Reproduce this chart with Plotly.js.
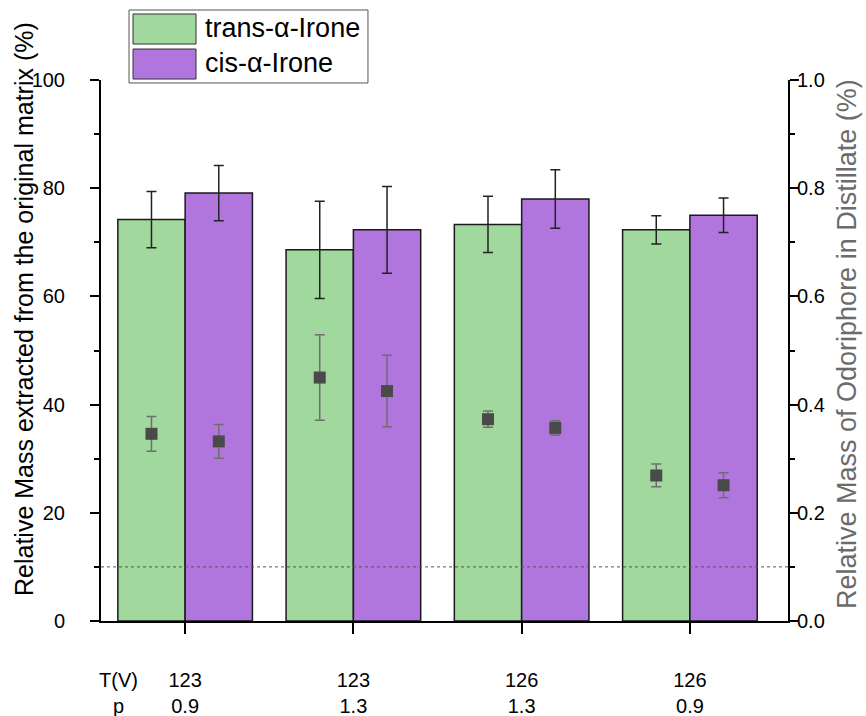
<!DOCTYPE html>
<html>
<head>
<meta charset="utf-8">
<script src="https://cdn.plot.ly/plotly-3.0.1.min.js"></script>
<style>
  html, body { margin: 0; padding: 0; background: #fff; }
  #chart { width: 866px; height: 716px; }
</style>
</head>
<body>
<div id="chart"></div>
<script>
// Distillation conditions for each run
const temperatures = ['123', '123', '126', '126'];
const pressures = ['0.9', '1.3', '1.3', '0.9'];

// Series names
const seriesNames = ['trans-\u03b1-Irone', 'cis-\u03b1-Irone'];

// Axis titles
const leftTitle = 'Relative Mass extracted from the original matrix (%)';
const rightTitle = 'Relative Mass of Odoriphore in Distillate (%)';

// Relative mass extracted from the original matrix (%), with errors
const transExtracted = [74.2, 68.6, 73.3, 72.3];
const transExtractedErr = [5.2, 9.0, 5.2, 2.6];
const cisExtracted = [79.1, 72.3, 78.0, 75.0];
const cisExtractedErr = [5.1, 8.0, 5.4, 3.2];

// Relative mass of odoriphore in distillate (%), with errors
const transDistillate = [0.346, 0.450, 0.373, 0.269];
const transDistillateErr = [0.032, 0.079, 0.015, 0.021];
const cisDistillate = [0.332, 0.425, 0.357, 0.251];
const cisDistillateErr = [0.031, 0.066, 0.013, 0.023];

// Reference level marked by the dashed line (left-axis units)
const referenceLevel = 10;

const categories = temperatures.map((t, i) => t + '<br>' + pressures[i]);

const GREEN = '#a0d89e';
const PURPLE = '#b076de';
const FONT = 'Liberation Sans, Arial, sans-serif';

const barTrace = (name, y, err, color) => ({
  type: 'bar', name, x: categories, y,
  marker: { color, line: { color: '#1a1a1a', width: 1.5 } },
  error_y: { type: 'data', array: err, visible: true, color: '#222', thickness: 1.5, width: 5 },
  xaxis: 'x', yaxis: 'y', showlegend: false
});

const pointTrace = (name, y, err) => ({
  type: 'scatter', mode: 'markers', name: name + ' (distillate)', x: categories, y,
  marker: { symbol: 'square', size: 12, color: '#4a4a4a' },
  error_y: { type: 'data', array: err, visible: true, color: '#6e6e6e', thickness: 1.5, width: 5 },
  xaxis: 'x', yaxis: 'y2', showlegend: false
});

const data = [
  barTrace(seriesNames[0], transExtracted, transExtractedErr, GREEN),
  barTrace(seriesNames[1], cisExtracted, cisExtractedErr, PURPLE),
  pointTrace(seriesNames[0], transDistillate, transDistillateErr),
  pointTrace(seriesNames[1], cisDistillate, cisDistillateErr)
];

const xRange = [-0.5, 3.583];
const boundaryTicks = [-0.5, 0.5, 1.5, 2.5, 3.5];

// Hand-built legend: frame, colour patches and labels in paper coordinates
const legendShapes = [
  { type: 'rect', xref: 'paper', yref: 'paper', x0: 0.0408, x1: 0.3886, y0: 0.9945, y1: 1.1294,
    line: { color: '#555', width: 1 }, fillcolor: '#fff' },
  { type: 'rect', xref: 'paper', yref: 'paper', x0: 0.0466, x1: 0.1383, y0: 1.0665, y1: 1.122,
    line: { color: '#333', width: 1 }, fillcolor: GREEN },
  { type: 'rect', xref: 'paper', yref: 'paper', x0: 0.0466, x1: 0.1383, y0: 1.0018, y1: 1.0573,
    line: { color: '#333', width: 1 }, fillcolor: PURPLE }
];
const legendLabels = [
  { xref: 'paper', yref: 'paper', x: 0.1485, y: 1.0961, xanchor: 'left', yanchor: 'middle',
    text: seriesNames[0], showarrow: false, font: { family: FONT, size: 27, color: '#000' } },
  { xref: 'paper', yref: 'paper', x: 0.1485, y: 1.0314, xanchor: 'left', yanchor: 'middle',
    text: seriesNames[1], showarrow: false, font: { family: FONT, size: 27, color: '#000' } }
];

// Axis titles drawn as rotated annotations
const axisTitles = [
  { xref: 'paper', yref: 'paper', x: -0.1121, y: 0.5767, xanchor: 'center', yanchor: 'middle',
    textangle: -90, text: leftTitle, showarrow: false,
    font: { family: FONT, size: 25, color: '#000' } },
  { xref: 'paper', yref: 'paper', x: 1.0859, y: 0.512, xanchor: 'center', yanchor: 'middle',
    textangle: -90, text: rightTitle, showarrow: false,
    font: { family: FONT, size: 27, color: '#6b6b6b' } }
];

const layout = {
  width: 866, height: 716,
  margin: { l: 101, r: 78, t: 80, b: 95, pad: 0 },
  paper_bgcolor: '#fff', plot_bgcolor: '#fff',
  font: { family: FONT, size: 20, color: '#000' },
  barmode: 'group', bargap: 0.2, bargroupgap: 0,
  scattermode: 'group', scattergap: 0.2,
  showlegend: false,
  xaxis: {
    type: 'category', range: xRange, showgrid: false, zeroline: false,
    showline: true, linecolor: '#000', linewidth: 2,
    ticks: 'outside', ticklen: 11, tickwidth: 2, tickcolor: '#000',
    tickfont: { family: FONT, size: 20, color: '#000' },
    ticklabelstandoff: 29
  },
  xaxis2: {
    overlaying: 'x', anchor: 'y', type: 'linear', range: xRange,
    tickmode: 'array', tickvals: boundaryTicks, showticklabels: false,
    ticks: 'outside', ticklen: 6, tickwidth: 2, tickcolor: '#000',
    showgrid: false, zeroline: false, showline: false
  },
  yaxis: {
    range: [0, 100], dtick: 20, showgrid: false, zeroline: false,
    showline: true, linecolor: '#000', linewidth: 2,
    ticks: 'outside', ticklen: 9, tickwidth: 2, tickcolor: '#000',
    minor: { dtick: 10, ticks: 'outside', ticklen: 5, tickwidth: 2, tickcolor: '#000', showgrid: false },
    tickfont: { family: FONT, size: 20, color: '#000' },
    ticklabelstandoff: 21
  },
  yaxis2: {
    overlaying: 'y', side: 'right', anchor: 'x',
    range: [0, 1], dtick: 0.2, tickformat: '.1f', showgrid: false, zeroline: false,
    showline: true, linecolor: '#000', linewidth: 2,
    ticks: 'outside', ticklen: 9, tickwidth: 2, tickcolor: '#000',
    minor: { dtick: 0.1, ticks: 'outside', ticklen: 5, tickwidth: 2, tickcolor: '#000', showgrid: false },
    tickfont: { family: FONT, size: 20, color: '#000' },
    ticklabelstandoff: -6
  },
  shapes: [
    { type: 'line', xref: 'paper', x0: 0, x1: 1, yref: 'y', y0: referenceLevel, y1: referenceLevel,
      line: { color: '#555', width: 1, dash: '3px,3px' }, layer: 'above' }
  ].concat(legendShapes),
  annotations: [
    { xref: 'paper', yref: 'paper', x: 0.026, y: -0.134, xanchor: 'center', yanchor: 'middle',
      text: 'T(V)<br>p', showarrow: false, font: { family: FONT, size: 20, color: '#000' } }
  ].concat(legendLabels, axisTitles)
};

Plotly.newPlot('chart', data, layout, { displayModeBar: false, staticPlot: true });
</script>
</body>
</html>
